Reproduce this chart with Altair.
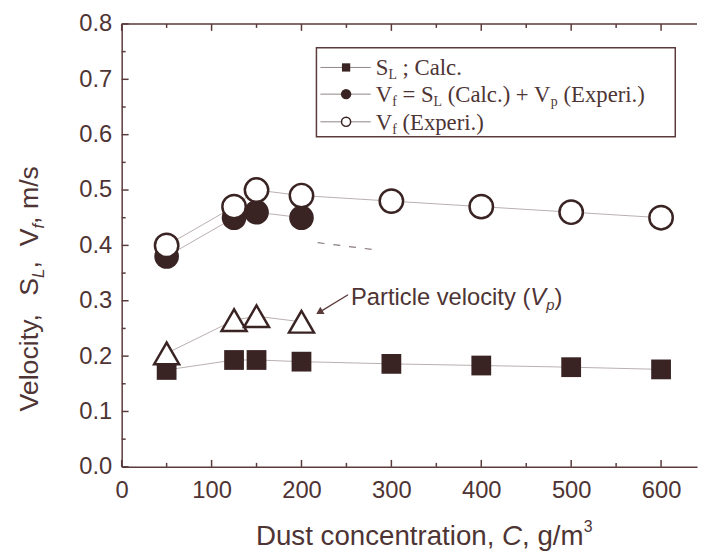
import altair as alt
import pandas as pd

# ---------------- data ----------------
C_calc = [50, 125, 150, 200, 300, 400, 500, 600]
SL_calc = [0.175, 0.193, 0.193, 0.190, 0.186, 0.183, 0.180, 0.176]

C_vf = [50, 125, 150, 200]
Vf_calc = [0.38, 0.45, 0.46, 0.45]

C_exp = [50, 125, 150, 200, 300, 400, 500, 600]
Vf_exp = [0.40, 0.47, 0.50, 0.49, 0.48, 0.47, 0.46, 0.45]

C_vp = [50, 125, 150, 200]
Vp_exp = [0.205, 0.265, 0.272, 0.262]

C_dash = [218, 282]
V_dash = [0.405, 0.392]

x_major = [0, 100, 200, 300, 400, 500, 600]
x_minor = [50, 150, 250, 350, 450, 550]
y_major = [0.0, 0.1, 0.2, 0.3, 0.4, 0.5, 0.6, 0.7, 0.8]
y_minor = [0.05, 0.15, 0.25, 0.35, 0.45, 0.55, 0.65, 0.75]

# ---------------- styling ----------------
W, H = 582, 448
TXT = "#4e3434"
AX = "#5a3a3a"
DARK = "#3a2323"
LINE = "#b9aeae"
SANS = "Liberation Sans"
SERIF = "Liberation Serif"

xs = alt.Scale(domain=[0, 640], nice=False, zero=False)
ys = alt.Scale(domain=[0, 0.8], nice=False, zero=False)
xaxis = alt.Axis(values=x_major, format="d", title=None, ticks=False, tickSize=0, grid=False,
                 domainColor=AX, domainWidth=1.5, labelFont=SANS, labelFontSize=24,
                 labelColor=TXT, labelPadding=12, labelFlush=False, labelOverlap=False)
yaxis = alt.Axis(values=y_major, format=".1f", title=None, ticks=False, tickSize=0, grid=False,
                 domainColor=AX, domainWidth=1.5, labelFont=SANS, labelFontSize=24,
                 labelColor=TXT, labelPadding=10, labelFlush=False, labelOverlap=False)

X = lambda: alt.X("c:Q", scale=xs, axis=xaxis)
Y = lambda: alt.Y("v:Q", scale=ys, axis=yaxis)

df_sl = pd.DataFrame({"c": C_calc, "v": SL_calc})
df_vf = pd.DataFrame({"c": C_vf, "v": Vf_calc})
df_ex = pd.DataFrame({"c": C_exp, "v": Vf_exp})
df_vp = pd.DataFrame({"c": C_vp, "v": Vp_exp})
df_dash = pd.DataFrame({"c": C_dash, "v": V_dash})

layers = []

# connecting lines
for d in (df_sl, df_vf, df_ex, df_vp):
    layers.append(alt.Chart(d).mark_line(color=LINE, strokeWidth=1).encode(x=X(), y=Y()))
layers.append(alt.Chart(df_dash).mark_line(color="#8a7d7d", strokeWidth=1.2, strokeDash=[7, 9])
              .encode(x=X(), y=Y()))

# markers
layers.append(alt.Chart(df_sl).mark_point(shape="square", filled=True, size=400, color=DARK,
                                          opacity=1).encode(x=X(), y=Y()))
layers.append(alt.Chart(df_vp).mark_point(shape="triangle-up", filled=True, size=640, fill="white",
                                          stroke=DARK, strokeWidth=2.5, opacity=1).encode(x=X(), y=Y()))
layers.append(alt.Chart(df_vf).mark_point(shape="circle", filled=True, size=620, color=DARK,
                                          opacity=1).encode(x=X(), y=Y()))
layers.append(alt.Chart(df_ex).mark_point(shape="circle", filled=True, size=560, fill="white",
                                          stroke=DARK, strokeWidth=2.5, opacity=1).encode(x=X(), y=Y()))

# inward ticks (bottom, top, left)
dxM = pd.DataFrame({"c": x_major})
dxm = pd.DataFrame({"c": x_minor})
dyM = pd.DataFrame({"v": y_major})
dym = pd.DataFrame({"v": y_minor})
for d, L in ((dxM, 7), (dxm, 4)):
    layers.append(alt.Chart(d).mark_rule(color=AX, strokeWidth=1.5)
                  .encode(x=X(), y=alt.value(H), y2=alt.value(H - L)))
    layers.append(alt.Chart(d).mark_rule(color=AX, strokeWidth=1.5)
                  .encode(x=X(), y=alt.value(0), y2=alt.value(L)))
for d, L in ((dyM, 7), (dym, 4)):
    layers.append(alt.Chart(d).mark_rule(color=AX, strokeWidth=1.5)
                  .encode(y=Y(), x=alt.value(0), x2=alt.value(L)))
# top frame line
one = alt.Data(values=[{"a": 1}])
layers.append(alt.Chart(one).mark_rule(color=AX, strokeWidth=1.5)
              .encode(x=alt.value(0), x2=alt.value(W), y=alt.value(0)))

# ---------------- text helpers ----------------
SANS_W = {" ": .278, "(": .333, ")": .333, ",": .278, ".": .278, "/": .278, "3": .556,
          "C": .722, "D": .722, "L": .556, "P": .667, "S": .667, "V": .667, "a": .556,
          "c": .5, "e": .556, "f": .278, "g": .556, "i": .222, "l": .222, "m": .833,
          "n": .556, "o": .556, "p": .556, "r": .333, "s": .5, "t": .278, "u": .556,
          "v": .5, "y": .5}
SERIF_W = {" ": .25, "(": .333, ")": .333, "+": .564, "=": .564, ".": .25, ";": .278,
           "C": .667, "E": .611, "L": .611, "S": .556, "V": .722, "a": .444, "c": .444,
           "e": .444, "f": .333, "i": .278, "l": .278, "p": .5, "r": .333, "x": .5}


def tw(s, size, table):
    return sum(table.get(ch, .5) for ch in s) * size


def text_layer(s, x, y, size, font, style="normal", angle=0):
    return alt.Chart(one).mark_text(text=s, font=font, fontSize=size, fontStyle=style,
                                    align="left", baseline="alphabetic", color=TXT,
                                    angle=angle).encode(x=alt.value(x), y=alt.value(y))


def hrow(segs, x0, y0, font, table):
    out = []
    x = x0
    for s, size, style, shift in segs:
        lead = len(s) - len(s.lstrip(" "))
        body = s.strip(" ")
        if body:
            out.append(text_layer(body, x + tw(" " * lead, size, table), y0 + shift, size, font, style))
        x += tw(s, size, table)
    return out


def total(segs, table):
    return sum(tw(s, size, table) for s, size, _, _ in segs)


# x-axis title
xt = [("Dust concentration, ", 28, "normal", 0), ("C", 28, "italic", 0),
      (", g/m", 28, "normal", 0), ("3", 16, "normal", -13)]
layers += hrow(xt, 306 - total(xt, SANS_W) / 2, 527, SANS, SANS_W)

# y-axis title (rotated)
yt = [("Velocity,  ", 27, "normal", 0), ("S", 27, "normal", 0), ("L", 17, "italic", 6),
      (",  ", 27, "normal", 0), ("V", 27, "normal", 0), ("f", 17, "italic", 6),
      (", m/s", 27, "normal", 0)]
yy = 392
for s, size, style, shift in yt:
    lead = len(s) - len(s.lstrip(" "))
    body = s.strip(" ")
    if body:
        layers.append(text_layer(body, -85 + shift, yy - tw(" " * lead, size, SANS_W),
                                 size, SANS, style, angle=270))
    yy -= tw(s, size, SANS_W)

# annotation
ann = [("Particle velocity (", 24, "normal", 0), ("V", 24, "italic", 0),
       ("p", 15, "italic", 5), (")", 24, "normal", 0)]
layers += hrow(ann, 232, 284, SANS, SANS_W)
layers.append(alt.Chart(one).mark_rule(color=AX, strokeWidth=1.3)
              .encode(x=alt.value(229), y=alt.value(274), x2=alt.value(201), y2=alt.value(291)))
layers.append(alt.Chart(one).mark_point(shape="triangle", angle=239, size=70, filled=True,
                                        color=AX, opacity=1)
              .encode(x=alt.value(201), y=alt.value(291)))

# legend
layers.append(alt.Chart(one).mark_rect(fill="white", stroke=AX, strokeWidth=1.5)
              .encode(x=alt.value(197), x2=alt.value(560), y=alt.value(24), y2=alt.value(114)))
rows_y = [44, 71, 99]
for ry in rows_y:
    layers.append(alt.Chart(one).mark_rule(color="#8f8585", strokeWidth=1)
                  .encode(x=alt.value(201), x2=alt.value(252), y=alt.value(ry)))
layers.append(alt.Chart(one).mark_point(shape="square", filled=True, size=70, color=DARK, opacity=1)
              .encode(x=alt.value(227), y=alt.value(rows_y[0])))
layers.append(alt.Chart(one).mark_point(shape="circle", filled=True, size=110, color=DARK, opacity=1)
              .encode(x=alt.value(227), y=alt.value(rows_y[1])))
layers.append(alt.Chart(one).mark_point(shape="circle", filled=True, size=85, fill="white",
                                        stroke=DARK, strokeWidth=1.5, opacity=1)
              .encode(x=alt.value(227), y=alt.value(rows_y[2])))

LF, SF = 23, 14
leg1 = [("S", LF, "normal", 0), ("L", SF, "normal", 4), (" ; Calc.", LF, "normal", 0)]
leg2 = [("V", LF, "normal", 0), ("f", SF, "normal", 4), (" = S", LF, "normal", 0),
        ("L", SF, "normal", 4), (" (Calc.) + V", LF, "normal", 0), ("p", SF, "normal", 4),
        (" (Experi.)", LF, "normal", 0)]
leg3 = [("V", LF, "normal", 0), ("f", SF, "normal", 4), (" (Experi.)", LF, "normal", 0)]
for segs, ry in zip((leg1, leg2, leg3), rows_y):
    layers += hrow(segs, 257, ry + 8, SERIF, SERIF_W)

chart = alt.layer(*layers).properties(
    width=W, height=H,
    autosize=alt.AutoSizeParams(type="none"),
    padding={"left": 115, "top": 13, "right": 3, "bottom": 82},
    background="white",
).configure_view(stroke=None)

chart.save("out.html", embed_options={"renderer": "svg", "actions": False})
